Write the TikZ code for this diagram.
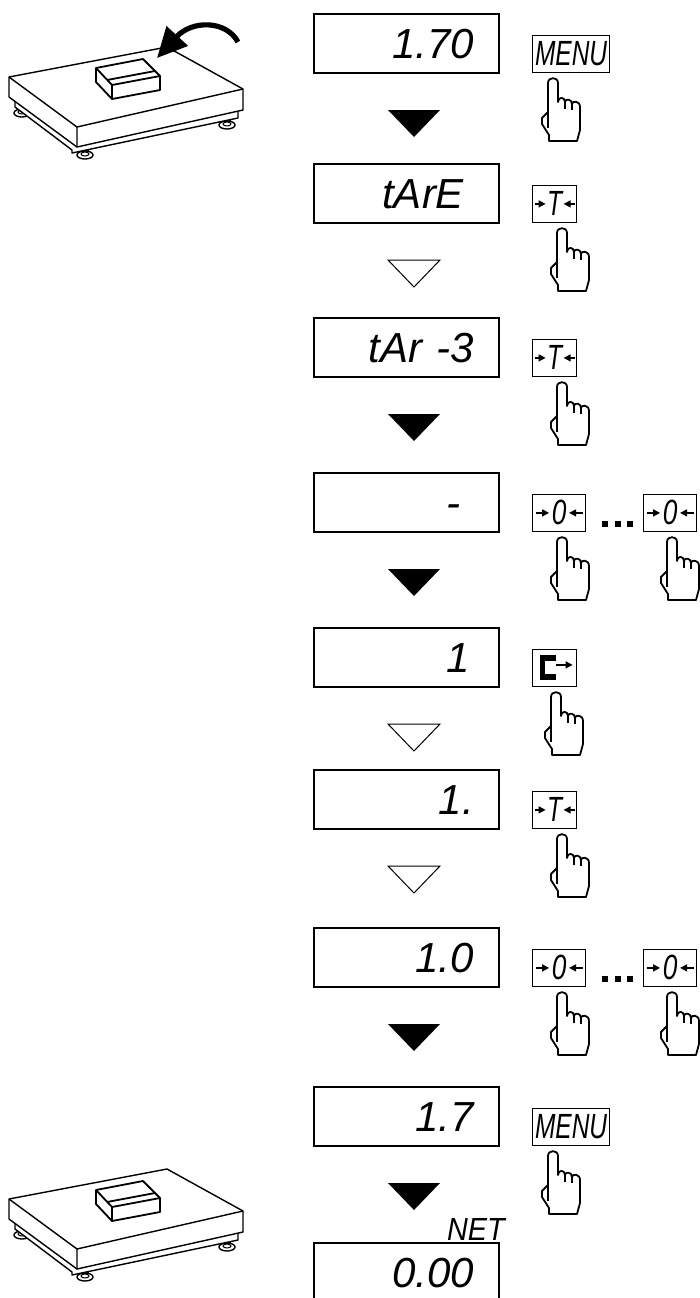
\documentclass[tikz,border=0pt]{standalone}
\usepackage{fontspec}
\setmainfont{Liberation Sans}
\usetikzlibrary{arrows.meta}

\newcommand\keyfnt{\fontsize{17.5pt}{17.5pt}\selectfont\itshape}

\tikzset{
  keyarr/.style={line width=0.7pt,-{Triangle[length=3.5pt,width=3.5pt]}},
  hand/.pic={
    \draw[line width=0.9pt,line join=round,fill=white] (-5,34) -- (-5,5) .. controls (-5,-1.5) and (5,-1.5) .. (5,5) -- (5,24)
      .. controls (5,18.5) and (12,18.5) .. (12,24) .. controls (12,20.5) and (19,20.5) .. (19,26)
      .. controls (19,22.5) and (27,22.5) .. (27,29) -- (27,52) -- (24,63) -- (-4,63) -- (-4,57) -- (-11,46) -- (-11,40) -- cycle;
    \draw[line width=0.9pt] (-5,34) -- (-5,50) (12,24) -- (12,31) (19,26) -- (19,32);
  },
  fullarr/.pic={\fill (-26,0) -- (26,0) -- (0,27) -- cycle;},
  openarr/.pic={\draw[line width=0.5pt] (-26,0) -- (26,0) -- (0,27) -- cycle;},
  zeroarr/.pic={\draw[keyarr] (-23.5,0) -- (-10,0); \draw[keyarr] (23.5,0) -- (10,0);},
  tarearr/.pic={\draw[keyarr] (-20,0) -- (-9,0); \draw[keyarr] (20,0) -- (9,0);},
  prtface/.pic={
    \draw[line width=2.6pt] (1,-10) -- (-12,-10) -- (-12,9) -- (1,9);
    \draw[keyarr] (1,-3) -- (18,-3);
  },
  platform/.pic={
    \foreach \fx/\fy in {22/113, 85/155, 227/125}{
      \draw[line width=0.7pt,fill=white] (\fx-3,\fy-7) rectangle (\fx+3,\fy-2);
      \draw[line width=0.7pt,fill=white] (\fx,\fy) ellipse (8 and 4);
      \draw[line width=0.5pt] (\fx,\fy-1) ellipse (4 and 2);
    }
    \draw[line width=0.7pt,line join=round,fill=white] (15,97) -- (15,107) -- (72,150) -- (72,153) -- (238,118) -- (238,108) -- cycle;
    \draw[line width=0.7pt,line join=round,fill=white] (9,77) -- (167,47) -- (243,89) -- (243,110) -- (77,147) -- (9,97) -- cycle;
    \draw[line width=0.7pt,line join=round] (9,77) -- (77,127) -- (243,89) (77,127) -- (77,147);
    % tray
    \draw[line width=0.9pt,line join=round,fill=white] (96,68) -- (143,59) -- (160,76) -- (160,90) -- (112,99) -- (96,82) -- cycle;
    \draw[line width=0.9pt,line join=round] (96,68) -- (112,85) -- (160,76) (112,85) -- (112,99) (107,80) -- (155,71);
  }
}

\begin{document}
\begin{tikzpicture}[x=0.5pt,y=-0.5pt,
  disp/.style={draw,line width=0.6pt,minimum width=92.5pt,minimum height=29.5pt,inner xsep=12.5pt,
    text width=67.5pt,align=right,text height=15pt,text depth=0pt,font=\fontsize{21pt}{21pt}\selectfont\itshape},
  btn/.style={draw,line width=0.6pt,inner sep=0pt,minimum height=18.5pt,anchor=south west,font=\keyfnt}]
  \useasboundingbox (0,0) rectangle (700,1298);

  % scales
  \pic at (0,0) {platform};
  \draw[line width=2.6pt,-{Triangle[length=15pt,width=14pt]}] (238,42) .. controls (226,20) and (192,20) .. (157,58);
  \pic at (0,1122) {platform};

  % displays
  \node[disp] (d1) at (406.5,43.5)   {1.70};
  \node[disp] (d2) at (406.5,193.5)  {tArE\kern5pt};
  \node[disp] (d3) at (406.5,347.5)  {tAr -3};
  \node[disp] (d4) at (406.5,502.5)  {-\kern7pt};
  \node[disp] (d5) at (406.5,657.5)  {1\kern2pt};
  \node[disp] (d6) at (406.5,799.5)  {1.};
  \node[disp] (d7) at (406.5,957.5)  {1.0};
  \node[disp] (d8) at (406.5,1116.5) {1.7};
  \node[disp] (d9) at (406.5,1272.5) {0.00};
  \node[anchor=base east,inner sep=0pt,font=\fontsize{16pt}{16pt}\selectfont\itshape] (net) at (505,1240) {\scalebox{0.9}[1]{NET}};

  % steps
  \pic at (414,110)  {fullarr};
  \pic at (414,260)  {openarr};
  \pic at (414,414)  {fullarr};
  \pic at (414,569)  {fullarr};
  \pic at (414,724)  {openarr};
  \pic at (414,866)  {openarr};
  \pic at (414,1024) {fullarr};
  \pic at (414,1183) {fullarr};

  % keys
  \node[btn,minimum width=38.5pt] (k1) at (532,73) {\scalebox{0.7}[1]{MENU}};
  \node[btn,minimum width=22pt] (k2) at (532,223) {\scalebox{0.7}[1]{T}};
  \pic at (k2.center) {tarearr};
  \node[btn,minimum width=22pt] (k3) at (532,377) {\scalebox{0.7}[1]{T}};
  \pic at (k3.center) {tarearr};
  \node[btn,minimum width=26.5pt] (k4) at (532,532) {\scalebox{0.75}[1]{0}};
  \pic at (k4.center) {zeroarr};
  \node[btn,minimum width=26.5pt] (k5) at (643,532) {\scalebox{0.75}[1]{0}};
  \pic at (k5.center) {zeroarr};
  \foreach \dx in {602,614.5,627} \fill (\dx,520.5) rectangle +(6,6);
  \node[btn,minimum width=22pt] (k6) at (532,687) {};
  \pic at (k6.center) {prtface};
  \node[btn,minimum width=22pt] (k7) at (532,829) {\scalebox{0.7}[1]{T}};
  \pic at (k7.center) {tarearr};
  \node[btn,minimum width=26.5pt] (k8) at (532,987) {\scalebox{0.75}[1]{0}};
  \pic at (k8.center) {zeroarr};
  \node[btn,minimum width=26.5pt] (k9) at (643,987) {\scalebox{0.75}[1]{0}};
  \pic at (k9.center) {zeroarr};
  \foreach \dx in {602,614.5,627} \fill (\dx,975.5) rectangle +(6,6);
  \node[btn,minimum width=38.5pt] (k10) at (532,1146) {\scalebox{0.7}[1]{MENU}};

  % hands
  \pic at (553,78)   {hand};
  \pic at (562,228)  {hand};
  \pic at (562,382)  {hand};
  \pic at (562,537)  {hand};
  \pic at (672,537)  {hand};
  \pic at (556,692)  {hand};
  \pic at (562,834)  {hand};
  \pic at (562,992)  {hand};
  \pic at (672,992)  {hand};
  \pic at (553,1151) {hand};
\end{tikzpicture}
\end{document}
